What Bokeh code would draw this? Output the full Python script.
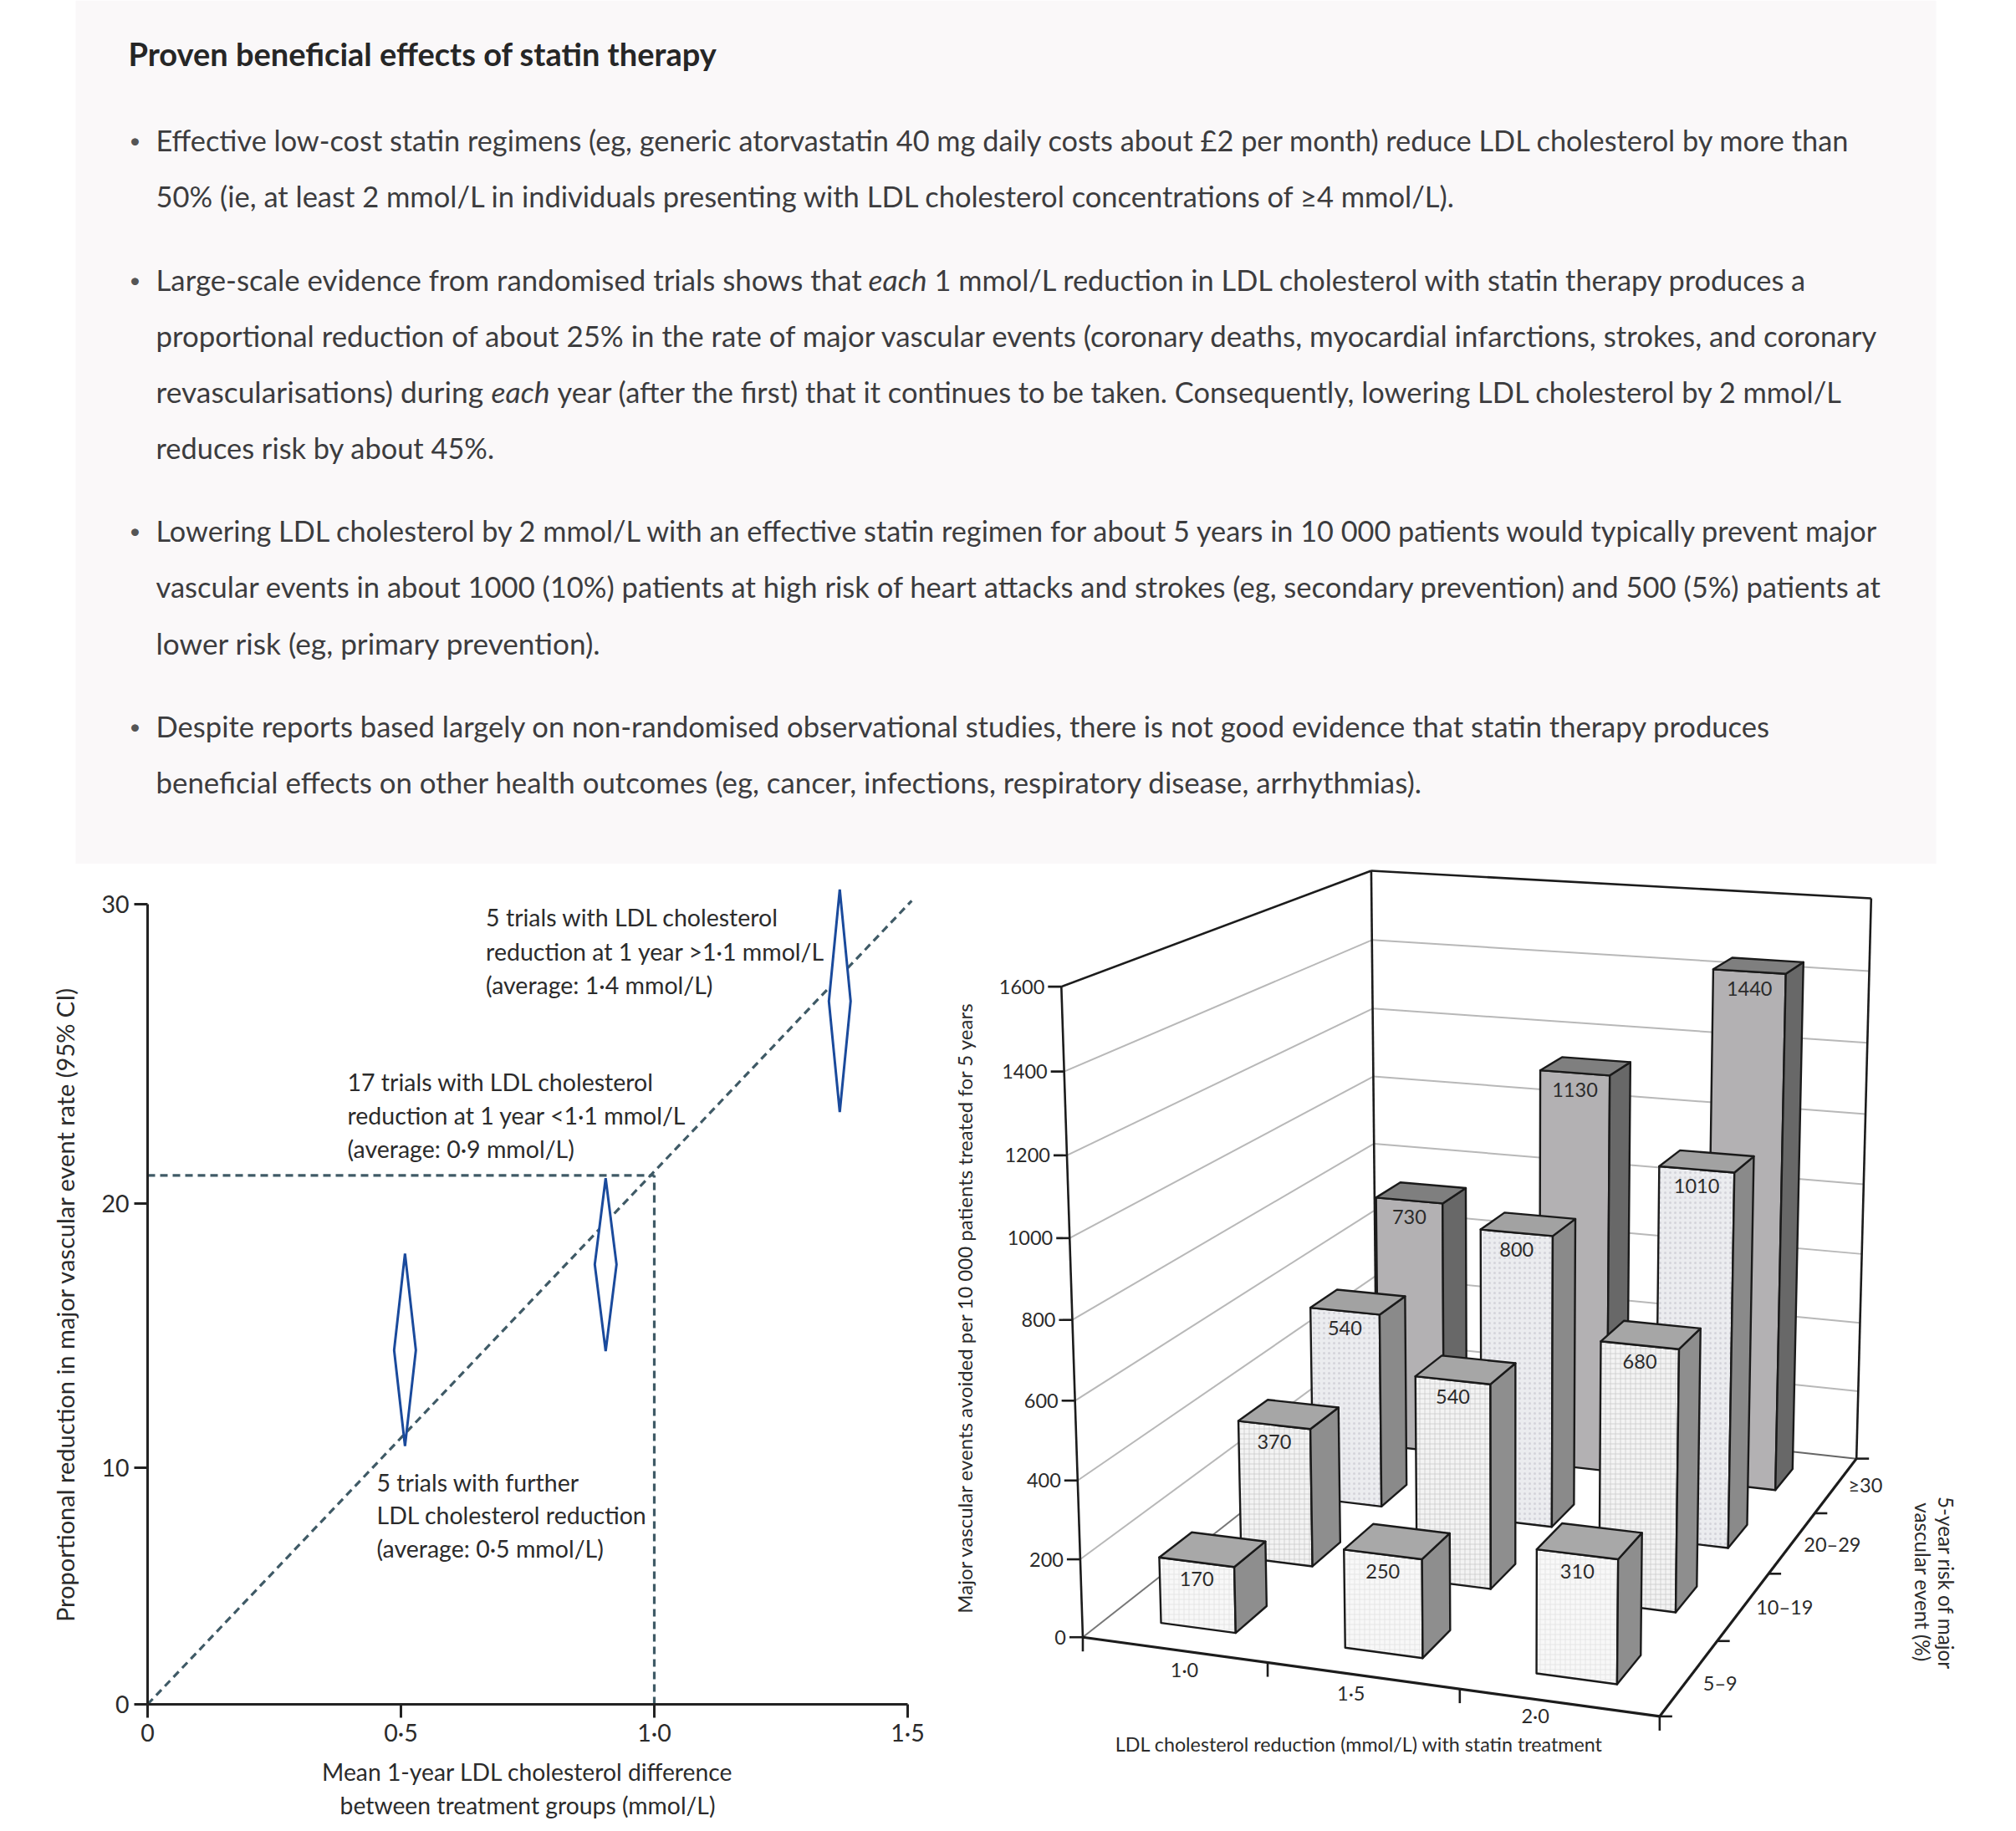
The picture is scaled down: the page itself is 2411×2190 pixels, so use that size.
import math
import numpy as np
from bokeh.plotting import figure
from bokeh.layouts import column, row
from bokeh.models import Range1d, FixedTicker, Label, ColumnDataSource
from bokeh.core.properties import value
from bokeh.embed import file_html
from bokeh.resources import INLINE

FONT = "Lato"
INK = "#2b2b2b"

# ---------- text panel ----------
TITLE = "Proven beneficial effects of statin therapy"
BODY_LINES = [
    "Effective low-cost statin regimens (eg, generic atorvastatin 40 mg daily costs about £2 per month) reduce LDL cholesterol by more than",
    "50% (ie, at least 2 mmol/L in individuals presenting with LDL cholesterol concentrations of ≥4 mmol/L).",
    "proportional reduction of about 25% in the rate of major vascular events (coronary deaths, myocardial infarctions, strokes, and coronary",
    "reduces risk by about 45%.",
    "Lowering LDL cholesterol by 2 mmol/L with an effective statin regimen for about 5 years in 10 000 patients would typically prevent major",
    "vascular events in about 1000 (10%) patients at high risk of heart attacks and strokes (eg, secondary prevention) and 500 (5%) patients at",
    "lower risk (eg, primary prevention).",
    "Despite reports based largely on non-randomised observational studies, there is not good evidence that statin therapy produces",
    "beneficial effects on other health outcomes (eg, cancer, infections, respiratory disease, arrhythmias).",
]
BODY_Y = [167, 234, 401, 535, 634, 701, 768, 868, 935]
BODY_SIZES = [34.3, 34.5, 34.85, 34.4, 34.25, 34.55, 35.2, 34.6, 34.85]
BULLET_Y = [167, 334, 634, 868]
MIXED_LINES = [
    (334, [(186, "Large-scale evidence from randomised trials shows that ", "normal", 34.8),
           (1038, "each", "italic", 35.5),
           (1117, "1 mmol/L reduction in LDL cholesterol with statin therapy produces a", "normal", 34.35)]),
    (468, [(186, "revascularisations) during ", "normal", 35.4),
           (587, "each", "italic", 35.5),
           (666, "year (after the first) that it continues to be taken. Consequently, lowering LDL cholesterol by 2 mmol/L", "normal", 34.4)]),
]

# ---------- left chart ----------
X_TICKS = [0, 0.5, 1.0, 1.5]
X_TICK_LABELS = ["0", "0·5", "1·0", "1·5"]
Y_TICKS = [0, 10, 20, 30]
DIAMOND_X = [0.508, 0.904, 1.366]
DIAMOND_LOW = [10.87, 14.56, 23.2]
DIAMOND_MID = [14.6, 17.8, 26.9]
DIAMOND_HIGH = [18.2, 20.9, 30.45]
FIT_X = [0, 1.508]
FIT_Y = [0, 30.1]
REF_X = 1.0
REF_Y = 21.0
X_TITLE = "Mean 1-year LDL cholesterol difference\nbetween treatment groups (mmol/L)"
Y_TITLE = "Proportional reduction in major vascular event rate (95% CI)"
LEFT_NOTES = [
    (580.6, [1096, 1137, 1177], ["5 trials with LDL cholesterol", "reduction at 1 year >1·1 mmol/L", "(average: 1·4 mmol/L)"]),
    (415, [1293, 1333, 1373], ["17 trials with LDL cholesterol", "reduction at 1 year <1·1 mmol/L", "(average: 0·9 mmol/L)"]),
    (450, [1772, 1811, 1851.5], ["5 trials with further", "LDL cholesterol reduction", "(average: 0·5 mmol/L)"]),
]

# ---------- right chart ----------
RISK_GROUPS = ["5–9", "10–19", "20–29", "≥30"]
LDL_GROUPS = ["1·0", "1·5", "2·0"]
EVENTS_5_9 = [170, 250, 310]
EVENTS_10_19 = [370, 540, 680]
EVENTS_20_29 = [540, 800, 1010]
EVENTS_30 = [730, 1130, 1440]
Z_TICKS = [0, 200, 400, 600, 800, 1000, 1200, 1400, 1600]
Z_MAX = 1600

# ---------- page geometry ----------
TOTAL_W, TOTAL_H = 2411, 2190
SPLIT_Y = 1033
SPLIT_X = 1130

# ===== top panel =====
top = figure(width=TOTAL_W, height=SPLIT_Y, x_range=Range1d(0, TOTAL_W), y_range=Range1d(SPLIT_Y, 0),
             output_backend="svg", toolbar_location=None, min_border=0, outline_line_color=None,
             x_axis_type=None, y_axis_type=None)
top.grid.visible = False
top.quad(left=[90], right=[2315], top=[0], bottom=[SPLIT_Y], fill_color="#faf8f9", line_color=None)
BODY_COLOR = "#3c3c3e"
def body_text(x, y, t, size, style="normal", color=BODY_COLOR):
    top.text(x=[x], y=[y], text=[t], text_font=value(FONT), text_font_size=f"{size}px", text_font_style=style,
             text_color=color, text_align="left", text_baseline="middle")
body_text(153, 63, TITLE, 38, style="bold", color="#262626")
for y, t, s in zip(BODY_Y, BODY_LINES, BODY_SIZES):
    body_text(186, y, t, s)
for y in BULLET_Y:
    body_text(154, y, "•", 24, color="#555555")
for y, parts in MIXED_LINES:
    for x, t, st, s in parts:
        body_text(x, y, t, s, style=st)

# ===== left chart: frame covers the whole canvas, axes sit at the zero lines =====
def risk_scale(pct):
    return -np.log(1 - np.asarray(pct, dtype=float) / 100.0)

L_X0, L_X_PER = 176, 606.0
L_Y0, L_K = 2038, 2684.0
def lx(px):
    return (px - L_X0) / L_X_PER
def ly(py):
    return (L_Y0 - py) / L_K
left = figure(width=SPLIT_X, height=TOTAL_H - SPLIT_Y,
              x_range=Range1d(lx(0), lx(SPLIT_X)), y_range=Range1d(ly(TOTAL_H), ly(SPLIT_Y)),
              output_backend="svg", toolbar_location=None, min_border=0, outline_line_color=None)
left.grid.visible = False
xax, yax = left.xaxis[0], left.yaxis[0]
xax.fixed_location = 0
yax.fixed_location = 0
xax.ticker = FixedTicker(ticks=X_TICKS)
xax.major_label_overrides = {float(t): s for t, s in zip(X_TICKS, X_TICK_LABELS)}
xax.bounds = (X_TICKS[0], X_TICKS[-1])
y_positions = [float(v) for v in risk_scale(Y_TICKS)]
yax.ticker = FixedTicker(ticks=y_positions)
yax.major_label_overrides = {p: str(t) for p, t in zip(y_positions, Y_TICKS)}
yax.bounds = (y_positions[0], y_positions[-1])
yax.major_label_orientation = "horizontal"
xax.axis_label = X_TITLE
yax.axis_label = Y_TITLE
for ax in (xax, yax):
    ax.axis_line_width = 3
    ax.axis_line_color = "#222222"
    ax.major_tick_line_width = 3
    ax.major_tick_line_color = "#222222"
    ax.major_tick_out = 16
    ax.major_tick_in = 0
    ax.minor_tick_line_color = None
    ax.major_label_text_font = FONT
    ax.major_label_text_font_size = "28.5px"
    ax.major_label_text_color = INK
    ax.axis_label_text_font = FONT
    ax.axis_label_text_font_style = "normal"
    ax.axis_label_text_color = INK
xax.major_label_standoff = 0
yax.major_label_standoff = 6
xax.axis_label_text_font_size = "28.3px"
yax.axis_label_text_font_size = "29px"
xax.axis_label_standoff = 10
yax.axis_label_standoff = 23

DASH = dict(line_color="#3f5a66", line_width=3.2, line_dash="9 6")
left.line(FIT_X, risk_scale(FIT_Y), **DASH)
left.line([0, REF_X], risk_scale([REF_Y, REF_Y]), **DASH)
left.line([REF_X, REF_X], risk_scale([0, REF_Y]), **DASH)
half = 13 / L_X_PER
left.patches(
    xs=[[x, x + half, x, x - half] for x in DIAMOND_X],
    ys=[list(risk_scale([h, m, l, m])) for l, m, h in zip(DIAMOND_LOW, DIAMOND_MID, DIAMOND_HIGH)],
    fill_color="white", line_color="#1a4a9c", line_width=3, line_join="bevel")

for x, ys, lines in LEFT_NOTES:
    for y, t in zip(ys, lines):
        left.add_layout(Label(x=lx(x), y=ly(y), text=t, text_font=FONT, text_font_size="28.5px", text_color=INK,
                              text_align="left", text_baseline="middle"))

# ===== right chart: a camera fitted to the drawn box =====
CAL = [
    ((0, 0, 0), (1292.7, 1956)), ((0, 0, .125), (1289.3, 1862.3)), ((0, 0, .25), (1286.7, 1769.3)),
    ((0, 0, .375), (1284.5, 1674.5)), ((0, 0, .5), (1282, 1577.5)), ((0, 0, .625), (1278.3, 1480)),
    ((0, 0, .75), (1275, 1381.7)), ((0, 0, .875), (1271.7, 1281.7)), ((0, 0, 1), (1269, 1181.7)),
    ((0, 1, 1), (1640, 1040.7)), ((0, 1, .875), (1640.7, 1125)), ((0, 1, .75), (1641.5, 1205.7)),
    ((0, 1, .625), (1642.3, 1286.7)), ((0, 1, .5), (1643, 1367)), ((0, 1, .375), (1643.5, 1448)),
    ((0, 1, 0), (1645, 1682)),
    ((1, 1, 1), (2239.3, 1073.3)), ((1, 1, .875), (2235, 1160)), ((1, 1, .75), (2232.7, 1246.7)),
    ((1, 1, .625), (2229, 1331.7)), ((1, 1, .5), (2226.7, 1416)), ((1, 1, .375), (2225, 1499.3)),
    ((1, 1, 0), (2219.3, 1745)),
    ((1 / 3, 0, 0), (1521.7, 1990)), ((2 / 3, 0, 0), (1750.7, 2020)), ((1, 0, 0), (1980, 2053)),
    ((1, .25, 0), (2051.7, 1964)), ((1, .5, 0), (2115.7, 1880.7)), ((1, .75, 0), (2171.7, 1809)),
]
A, b = [], []
for (u, v, w), (x, y) in CAL:
    A.append([u, v, w, 1, 0, 0, 0, 0, -x * u, -x * v, -x * w]); b.append(x)
    A.append([0, 0, 0, 0, u, v, w, 1, -y * u, -y * v, -y * w]); b.append(y)
sol = np.linalg.lstsq(np.array(A, float), np.array(b, float), rcond=None)[0]
CAM = np.append(sol, 1.0).reshape(3, 4)
def proj(u, v, z):
    h = CAM @ np.array([u, v, z / Z_MAX, 1.0])
    return float(h[0] / h[2]), float(h[1] / h[2])
def pline(p, a, b, **kw):
    pa, pb = proj(*a), proj(*b)
    p.line([pa[0], pb[0]], [pa[1], pb[1]], **kw)

right = figure(width=TOTAL_W - SPLIT_X, height=TOTAL_H - SPLIT_Y, x_range=Range1d(SPLIT_X, TOTAL_W),
               y_range=Range1d(TOTAL_H, SPLIT_Y), output_backend="svg", toolbar_location=None, min_border=0,
               outline_line_color=None, x_axis_type=None, y_axis_type=None)
right.grid.visible = False
def rtext(x, y, t, size=23.5, align="center", angle=0.0):
    right.text(x=[x], y=[y], text=[t], text_font=value(FONT), text_font_size=f"{size}px", text_color=INK,
               text_align=align, text_baseline="middle", angle=angle)

GRID = dict(line_color="#b8b8b8", line_width=2)
BLACK = dict(line_color="#1c1c1c", line_width=2.6)
for z in Z_TICKS[1:-1]:
    pline(right, (0, 0, z), (0, 1, z), **GRID)
    pline(right, (0, 1, z), (1, 1, z), **GRID)
pline(right, (0, 0, 0), (0, 1, 0), line_color="#777777", line_width=2)
pline(right, (0, 1, 0), (1, 1, 0), line_color="#666666", line_width=2)
pline(right, (0, 0, Z_MAX), (0, 1, Z_MAX), **BLACK)
pline(right, (0, 1, Z_MAX), (1, 1, Z_MAX), **BLACK)
pline(right, (0, 0, 0), (0, 0, Z_MAX), **BLACK)
pline(right, (0, 1, 0), (0, 1, Z_MAX), **BLACK)
pline(right, (1, 1, 0), (1, 1, Z_MAX), **BLACK)
AXIS = dict(line_color="#1c1c1c", line_width=3.2)
pline(right, (0, 0, 0), (1, 0, 0), **AXIS)
pline(right, (1, 0, 0), (1, 1, 0), **AXIS)

TK = dict(line_color="#1c1c1c", line_width=2.6)
for z in Z_TICKS:
    x, y = proj(0, 0, z)
    right.line([x - 16, x], [y, y], **TK)
    rtext(x - 20, y, str(z), align="right")
for k in range(4):
    x, y = proj(k / 3, 0, 0)
    right.line([x, x], [y, y + 17], **TK)
for k in range(5):
    x, y = proj(1, k / 4, 0)
    right.line([x, x + 15], [y, y], **TK)
LDL_OFFSET = [(12, 24), (-14, 21), (-28, 16)]
for i, (lab, (dx, dy)) in enumerate(zip(LDL_GROUPS, LDL_OFFSET)):
    x, y = proj((i + .5) / 3, 0, 0)
    rtext(x + dx, y + dy, lab)
RISK_OFFSET = [(37, 6), (49, 1), (48, 2), (35, 0)]
for j, (lab, (dx, dy)) in enumerate(zip(RISK_GROUPS, RISK_OFFSET)):
    x, y = proj(1, (j + .5) / 4, 0)
    rtext(x + dx, y + dy, lab)

rtext(1153, 1563, "Major vascular events avoided per 10 000 patients treated for 5 years", size=24, angle=math.pi / 2)
rtext(1625, 2085, "LDL cholesterol reduction (mmol/L) with statin treatment", size=23.3)
rtext(2327, 1893, "5-year risk of major", size=24.2, angle=-math.pi / 2)
rtext(2299, 1892, "vascular event (%)", size=24.2, angle=-math.pi / 2)

ROWS = [EVENTS_5_9, EVENTS_10_19, EVENTS_20_29, EVENTS_30]
FRONT = ["#f8f8f8", "#f3f3f3", "#ebecef", "#b3b1b3"]
TOPS = ["#a8a8a8", "#a6a6a6", "#a2a2a2", "#7f7f7f"]
SIDE = ["#8e8e8e", "#8e8e8e", "#8a8a8a", "#686868"]
HATCH = ["cross", "cross", "dot", "blank"]
HATCH_COL = ["#e0e0e0", "#c6c6c6", "#d4d4da", "#b3b1b3"]
U_LEFT, U_RIGHT, FRAC_V = 0.215, 0.195, 0.39
xs, ys, fills, hatches, hcols = [], [], [], [], []
for j in reversed(range(4)):
    for i in range(3):
        val = ROWS[j][i]
        u0 = (i + .5 - U_LEFT) / 3
        u1 = (i + .5 + U_RIGHT) / 3
        v0 = (j + .5 - FRAC_V / 2) / 4
        v1 = (j + .5 + FRAC_V / 2) / 4
        faces = [
            ([(u0, v0, 0), (u1, v0, 0), (u1, v0, val), (u0, v0, val)], FRONT[j], HATCH[j], HATCH_COL[j]),
            ([(u1, v0, 0), (u1, v1, 0), (u1, v1, val), (u1, v0, val)], SIDE[j], "blank", SIDE[j]),
            ([(u0, v0, val), (u1, v0, val), (u1, v1, val), (u0, v1, val)], TOPS[j], "blank", TOPS[j]),
        ]
        for pts, col, hat, hc in faces:
            pr = [proj(*q) for q in pts]
            xs.append([q[0] for q in pr]); ys.append([q[1] for q in pr])
            fills.append(col); hatches.append(hat); hcols.append(hc)
right.patches(xs="xs", ys="ys", source=ColumnDataSource(dict(xs=xs, ys=ys, fill=fills, hatch=hatches, hc=hcols)),
              fill_color="fill", line_color="#1a1a1a", line_width=2.4, line_join="round",
              hatch_pattern="hatch", hatch_color="hc", hatch_scale=6, hatch_weight=0.7)
for j in range(4):
    for i in range(3):
        val = ROWS[j][i]
        v0 = (j + .5 - FRAC_V / 2) / 4
        x, y = proj((i + .5 + (U_RIGHT - U_LEFT) / 2) / 3, v0, val)
        rtext(x, y + 20, str(val), size=23.5)

page = column(top, row(left, right, spacing=0), spacing=0)
open("out.html", "w").write(file_html(page, INLINE))
